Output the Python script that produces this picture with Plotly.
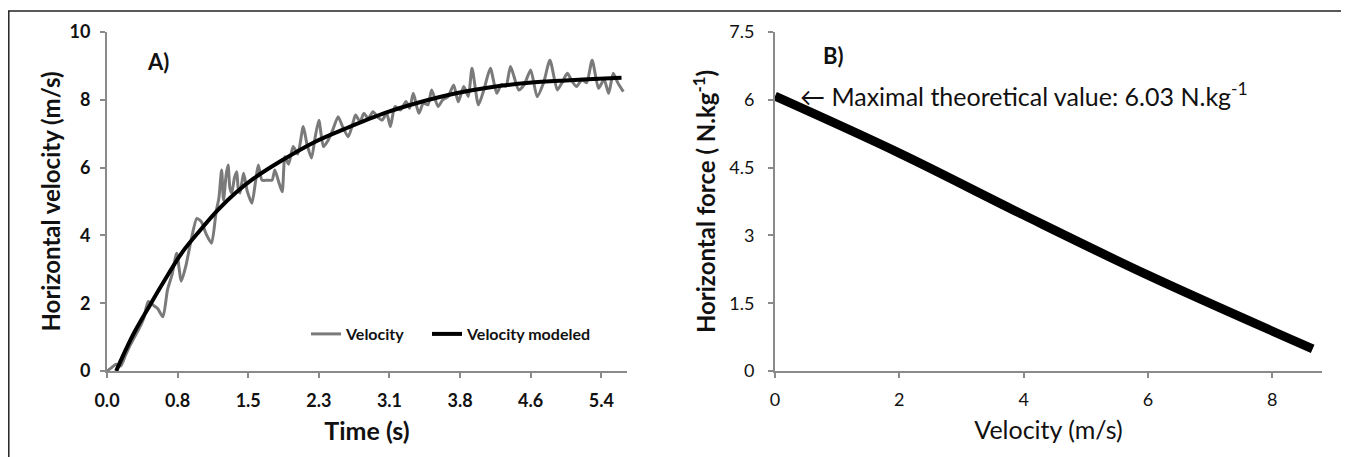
import plotly.graph_objects as go

# ---- Panel A data ----
time_raw = [0.00, 0.05, 0.10, 0.15, 0.20, 0.25, 0.30, 0.35, 0.40, 0.45, 0.50, 0.55, 0.61, 0.66, 0.71,
            0.76, 0.81, 0.86, 0.92, 0.98, 1.03, 1.08, 1.14, 1.19, 1.22, 1.25, 1.27, 1.30, 1.32, 1.34,
            1.36, 1.39, 1.415, 1.43, 1.45, 1.47, 1.49, 1.53, 1.58, 1.62, 1.65, 1.69, 1.75, 1.80, 1.83,
            1.87, 1.91, 1.94, 1.98, 2.03, 2.08, 2.14, 2.18, 2.23, 2.27, 2.31, 2.36, 2.41, 2.46, 2.52,
            2.57, 2.63, 2.68, 2.71, 2.76, 2.80, 2.85, 2.90, 2.95, 3.00, 3.05, 3.09, 3.14, 3.20, 3.26,
            3.30, 3.34, 3.40, 3.45, 3.50, 3.54, 3.61, 3.66, 3.72, 3.78, 3.83, 3.89, 3.94, 3.98, 4.05,
            4.11, 4.18, 4.25, 4.30, 4.35, 4.40, 4.49, 4.55, 4.62, 4.69, 4.76, 4.83, 4.91, 4.96, 5.02,
            5.07, 5.12, 5.18, 5.23, 5.29, 5.36, 5.42, 5.47, 5.52, 5.57, 5.63]
velocity_raw = [0.00, 0.10, 0.20, 0.15, 0.45, 0.75, 1.00, 1.25, 1.55, 2.05, 1.95, 1.85, 1.60, 2.40, 2.85,
                3.47, 2.65, 3.10, 3.90, 4.50, 4.40, 4.05, 3.77, 4.70, 5.10, 5.93, 5.04, 5.80, 6.08, 5.40,
                5.25, 5.70, 5.88, 5.40, 5.25, 5.55, 5.83, 5.30, 4.95, 5.60, 6.08, 5.63, 5.63, 5.63, 5.93,
                5.60, 5.29, 6.32, 6.10, 6.62, 6.40, 7.21, 6.70, 6.28, 6.90, 7.40, 6.62, 6.80, 7.10, 7.50,
                7.20, 6.91, 7.30, 7.55, 7.35, 7.60, 7.45, 7.65, 7.50, 7.40, 7.60, 7.21, 7.80, 7.70, 7.95,
                7.75, 8.19, 7.60, 7.90, 7.85, 8.29, 7.80, 8.00, 8.10, 8.44, 7.94, 8.39, 8.10, 8.93, 7.85,
                8.30, 8.93, 8.19, 8.45, 8.40, 8.98, 8.29, 8.45, 8.88, 8.09, 8.50, 9.17, 8.29, 8.50, 8.78,
                8.55, 8.39, 8.60, 8.50, 9.17, 8.34, 8.60, 8.19, 8.78, 8.50, 8.24]

time_model = [0.10, 0.20, 0.30, 0.47, 0.60, 0.82, 1.00, 1.21, 1.40, 1.60, 1.90, 2.26, 2.60, 3.04,
              3.40, 3.82, 4.20, 4.60, 5.00, 5.30, 5.61]
velocity_model = [0.00, 0.60, 1.15, 1.95, 2.55, 3.50, 4.10, 4.75, 5.25, 5.68, 6.20, 6.75, 7.15, 7.62,
                  7.92, 8.20, 8.38, 8.50, 8.57, 8.61, 8.65]

time_tickvals = [0.0, 0.77, 1.54, 2.31, 3.08, 3.85, 4.62, 5.39]
time_ticktext = ["0.0", "0.8", "1.5", "2.3", "3.1", "3.8", "4.6", "5.4"]
velocity_tickvals = [0, 2, 4, 6, 8, 10]
velocity_ticktext = ["0", "2", "4", "6", "8", "10"]

# ---- Panel B data ----
velocity_b = [0.0, 2.0, 4.0, 6.0, 8.65]
force_b = [6.08, 4.82, 3.45, 2.12, 0.49]
force_tickvals = [0, 1.5, 3, 4.5, 6, 7.5]
force_ticktext = ["0", "1.5", "3", "4.5", "6", "7.5"]

# page body has an 8px margin: the figure sits at (8, 8) in the window
OFF = 8
W, H = 1349 - OFF, 457 - OFF
FONT = "Lato"
AXC = "#8a8a8a"


def px(X):
    return (X - OFF) / W


def py(Y):
    return 1 - (Y - OFF) / H


def bold(items):
    return ["<b>%s</b>" % s for s in items]


fig = go.Figure()
fig.add_trace(go.Scatter(x=time_raw, y=velocity_raw, mode="lines", name="<b>Velocity</b>",
                         line=dict(color="#7a7a7a", width=3, shape="spline", smoothing=0.6),
                         xaxis="x", yaxis="y", legend="legend"))
fig.add_trace(go.Scatter(x=time_model, y=velocity_model, mode="lines", name="<b>Velocity modeled</b>",
                         line=dict(color="#000000", width=4, shape="spline"), xaxis="x", yaxis="y",
                         legend="legend2"))
fig.add_trace(go.Scatter(x=velocity_b, y=force_b, mode="lines", showlegend=False,
                         line=dict(color="#000000", width=9, shape="spline"), xaxis="x2", yaxis="y2"))

ydom = [py(371), py(32)]
axis_common = dict(showgrid=False, zeroline=False, showline=True, linecolor=AXC, linewidth=2,
                   ticks="outside", ticklen=5, tickwidth=1.5, tickcolor=AXC, automargin=False)
legend_common = dict(orientation="h", xanchor="left", yanchor="middle", bgcolor="rgba(0,0,0,0)",
                     font=dict(size=16), itemwidth=30)

fig.update_layout(
    width=W, height=H,
    margin=dict(l=0, r=0, t=0, b=0, pad=0, autoexpand=False),
    paper_bgcolor="white", plot_bgcolor="white",
    font=dict(family=FONT, color="#111111"),
    xaxis=dict(domain=[px(107), px(627)], range=[0, 5.67], tickvals=time_tickvals,
               ticktext=bold(time_ticktext), tickfont=dict(size=18), ticklabelstandoff=7,
               title=dict(text="<b>Time (s)</b>", font=dict(size=25), standoff=13), anchor="y", **axis_common),
    yaxis=dict(domain=ydom, range=[0, 10], tickvals=velocity_tickvals, ticktext=bold(velocity_ticktext),
               tickfont=dict(size=18), ticklabelstandoff=6,
               title=dict(text="<b>Horizontal velocity (m/s)</b>", font=dict(size=24), standoff=2),
               anchor="x", **axis_common),
    xaxis2=dict(domain=[px(775), px(1322)], range=[0, 8.8], dtick=2,
                tickfont=dict(size=18), ticklabelstandoff=6,
                title=dict(text="Velocity (m/s)", font=dict(size=25), standoff=13), anchor="y2", **axis_common),
    yaxis2=dict(domain=ydom, range=[0, 7.5], tickvals=force_tickvals, ticktext=force_ticktext,
                tickfont=dict(size=18), ticklabelstandoff=10,
                title=dict(text="<b>Horizontal force ( N.kg<sup>-1</sup>)</b>", font=dict(size=24), standoff=7),
                anchor="x2", **axis_common),
    showlegend=True,
    legend=dict(x=px(306), y=py(334), **legend_common),
    legend2=dict(x=px(427), y=py(334), **legend_common),
    annotations=[
        dict(text="<b>A)</b>", x=px(145), y=py(61), xref="paper", yref="paper",
             xanchor="left", yanchor="middle", showarrow=False, font=dict(size=22)),
        dict(text="<b>B)</b>", x=px(821), y=py(55), xref="paper", yref="paper",
             xanchor="left", yanchor="middle", showarrow=False, font=dict(size=22)),
        dict(text="\u2190 Maximal theoretical value: 6.03 N.kg<sup>-1</sup>", x=px(798), y=py(94),
             xref="paper", yref="paper", xanchor="left", yanchor="middle", showarrow=False,
             font=dict(size=25)),
    ],
    shapes=[
        dict(type="line", xref="paper", yref="paper", x0=0, x1=1, y0=py(11), y1=py(11),
             line=dict(color="#222222", width=1.5)),
        dict(type="line", xref="paper", yref="paper", x0=px(8.8), x1=px(8.8), y0=0, y1=py(11),
             line=dict(color="#222222", width=1.5)),
    ],
)

fig.write_html("out.html")
